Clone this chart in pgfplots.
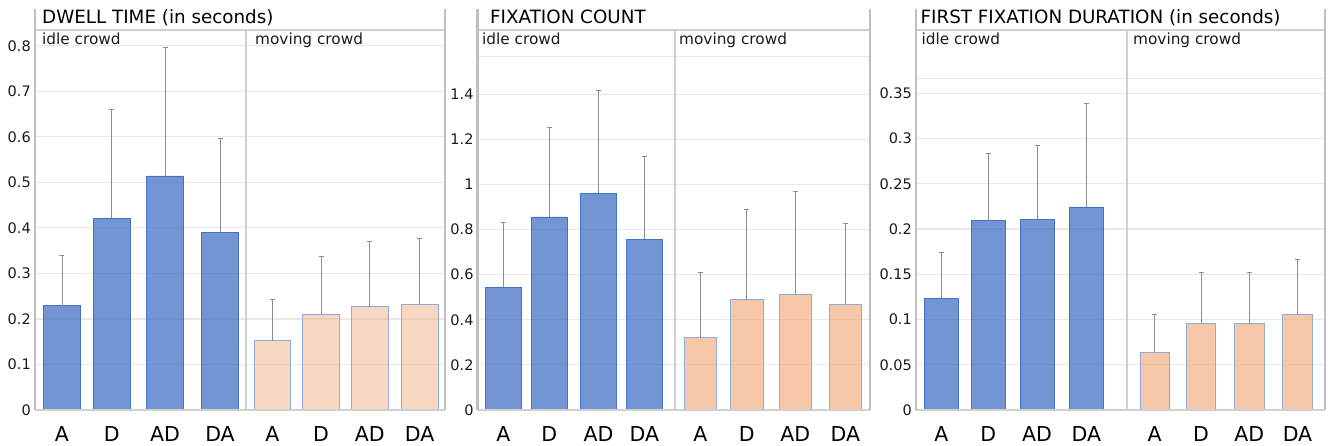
\documentclass[border=0pt]{standalone}
\usepackage{fontspec}
\setmainfont{DejaVu Sans}
\usepackage{pgfplots}
\pgfplotsset{compat=1.18}

\definecolor{barblue}{HTML}{4472C4}
\definecolor{barpeach}{HTML}{F4B183}
\definecolor{peachedge}{HTML}{8FAADC}
\definecolor{framegray}{HTML}{BFBFBF}
\definecolor{linegray}{HTML}{D0D0D0}
\definecolor{gridgray}{HTML}{E8E8E8}
\definecolor{errgray}{HTML}{8C8C8C}
\definecolor{txt}{HTML}{1A1A1A}

\pgfplotsset{
  panel/.style={
    scale only axis, anchor=south west, height=380pt,
    ymin=0, axis line style={draw=none}, major tick length=0pt,
    ymajorgrids, grid style={gridgray, line width=1.2pt},
    xticklabels={A,D,AD,DA,A,D,AD,DA},
    xticklabel style={anchor=base, yshift=-31.5pt, font=\fontsize{20.5}{21}\selectfont, text=black},
    yticklabel style={anchor=east, inner sep=0pt, xshift=-4pt, font=\fontsize{14.5}{15}\selectfont, text=txt},
    clip=false,
  },
  errs/.style={
    error bars/y dir=plus, error bars/y explicit,
    error bars/error bar style={errgray, line width=0.9pt},
    error bars/error mark options={rotate=90, errgray, mark size=2.5pt, line width=0.9pt}},
  idlebar/.style={ybar, bar shift=0pt, fill=barblue, fill opacity=0.75, draw=barblue, line width=0.8pt, errs},
  movebar/.style={ybar, bar shift=0pt, fill=barpeach, fill opacity=#1, draw=peachedge, line width=0.8pt, errs},
}

\newcommand{\panelframe}[2]{%
  \draw[linegray, line width=1.5pt] (rel axis cs:0,1) -- (rel axis cs:1,1);
  \draw[linegray, line width=2pt] (axis cs:#1,0) -- (axis cs:#1,#2);
  \draw[linegray, line width=2pt] (rel axis cs:0,0) -- (rel axis cs:1,0);
  \draw[framegray, line width=2.5pt] (rel axis cs:0,0) -- ([yshift=21pt]rel axis cs:0,1);
  \draw[framegray, line width=2.5pt] (rel axis cs:1,0) -- ([yshift=21pt]rel axis cs:1,1);
}

\begin{document}
\begin{tikzpicture}[x=1pt,y=1pt]

% dwell time
\begin{axis}[panel, at={(35pt,36pt)}, width=410pt,
  xmin=35, xmax=445, ymax=0.8346,
  xtick={62,111.7,165,220,272.3,321,369.7,419.7},
  ytick={0,0.1,0.2,0.3,0.4,0.5,0.6,0.7,0.8},
  yticklabels={0,0.1,0.2,0.3,0.4,0.5,0.6,0.7,0.8}]
  \addplot[idlebar, bar width=36.5] coordinates {
    (62,0.229) +- (0,0.111)
    (111.7,0.421) +- (0,0.239)
    (165,0.514) +- (0,0.282)
    (220,0.390) +- (0,0.207)
  };
  \addplot[movebar=0.5, bar width=36.5] coordinates {
    (272.3,0.152) +- (0,0.091)
    (321,0.210) +- (0,0.127)
    (369.7,0.227) +- (0,0.143)
    (419.7,0.232) +- (0,0.145)
  };
  \panelframe{245.6}{0.8346}
\end{axis}

% fixation count
\begin{axis}[panel, at={(477.7pt,36pt)}, width=392.3pt,
  xmin=477.7, xmax=870, ymax=1.685,
  xtick={503.3,549.3,598.5,644.3,700.5,746.8,795.3,845.3},
  ytick={0,0.2,0.4,0.6,0.8,1,1.2,1.4},
  yticklabels={0,0.2,0.4,0.6,0.8,1,1.2,1.4},
  extra y ticks={1.567}, extra y tick labels={}]
  \addplot[idlebar, bar width=36.5] coordinates {
    (503.3,0.544) +- (0,0.287)
    (549.3,0.856) +- (0,0.397)
    (598.5,0.961) +- (0,0.456)
    (644.3,0.758) +- (0,0.365)
  };
  \addplot[movebar=0.7, bar width=32.5] coordinates {
    (700.5,0.321) +- (0,0.288)
    (746.8,0.491) +- (0,0.399)
    (795.3,0.511) +- (0,0.457)
    (845.3,0.469) +- (0,0.359)
  };
  \panelframe{675}{1.685}
\end{axis}

% first fixation duration
\begin{axis}[panel, at={(916pt,36pt)}, width=409pt,
  xmin=916, xmax=1325, ymax=0.420,
  xtick={941.3,988.2,1037,1086.3,1154.7,1201,1249.3,1297.5},
  ytick={0,0.05,0.1,0.15,0.2,0.25,0.3,0.35},
  yticklabels={0,0.05,0.1,0.15,0.2,0.25,0.3,0.35},
  extra y ticks={0.3667}, extra y tick labels={}]
  \addplot[idlebar, bar width=34] coordinates {
    (941.3,0.1234) +- (0,0.0506)
    (988.2,0.209) +- (0,0.074)
    (1037,0.211) +- (0,0.0815)
    (1086.3,0.2244) +- (0,0.1146)
  };
  \addplot[movebar=0.7, bar width=29.5] coordinates {
    (1154.7,0.0637) +- (0,0.042)
    (1201,0.0962) +- (0,0.0558)
    (1249.3,0.0958) +- (0,0.056)
    (1297.5,0.1057) +- (0,0.0608)
  };
  \panelframe{1127}{0.420}
\end{axis}

\begin{scope}[every node/.style={inner sep=0pt, anchor=base west}]
  \node[font=\fontsize{18.3}{19}\selectfont, text=black] at (42,422.5) {DWELL TIME (in seconds)};
  \node[font=\fontsize{18.3}{19}\selectfont, text=black] at (490,422.5) {FIXATION COUNT};
  \node[font=\fontsize{18.3}{19}\selectfont, text=black] at (920.5,422.5) {FIRST FIXATION DURATION (in seconds)};
  \node[font=\fontsize{15.3}{16}\selectfont, text=txt] at (42,401) {idle crowd};
  \node[font=\fontsize{15.3}{16}\selectfont, text=txt] at (255,401) {moving crowd};
  \node[font=\fontsize{15.3}{16}\selectfont, text=txt] at (482,401) {idle crowd};
  \node[font=\fontsize{15.3}{16}\selectfont, text=txt] at (679,401) {moving crowd};
  \node[font=\fontsize{15.3}{16}\selectfont, text=txt] at (921.5,401) {idle crowd};
  \node[font=\fontsize{15.3}{16}\selectfont, text=txt] at (1133,401) {moving crowd};
\end{scope}

\pgfresetboundingbox
\useasboundingbox (0,0) rectangle (1330,446);
\end{tikzpicture}
\end{document}
